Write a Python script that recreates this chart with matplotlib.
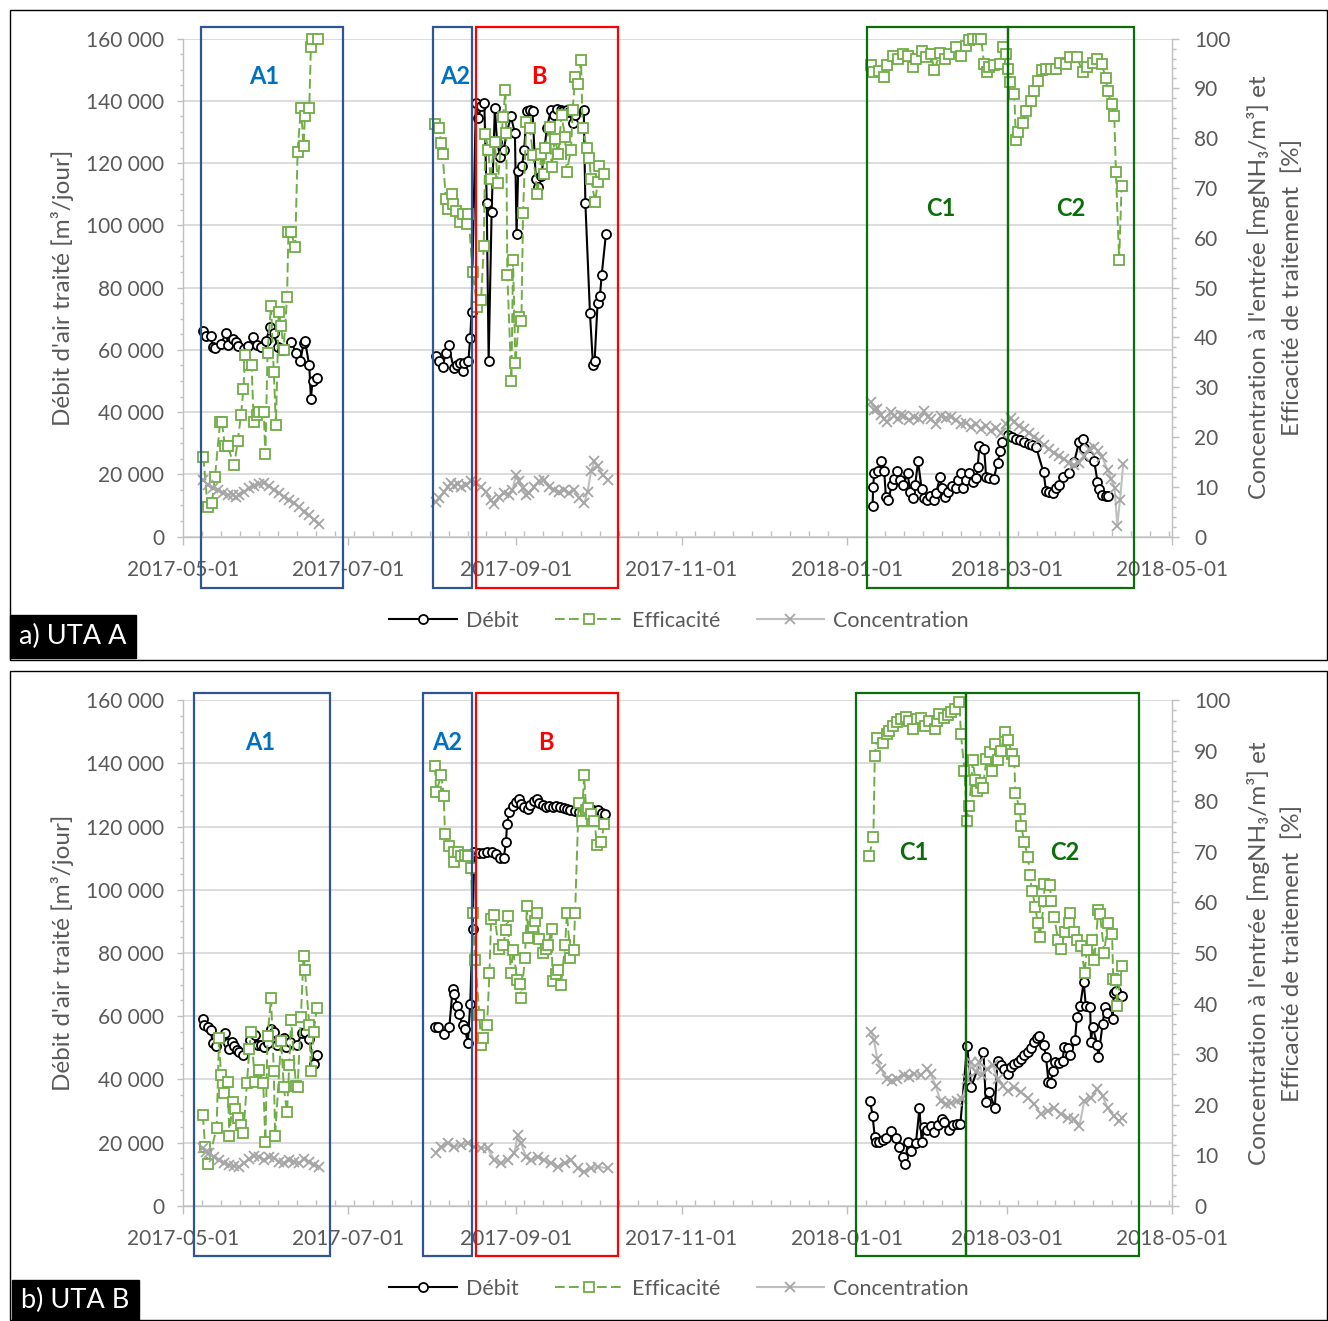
import numpy as np
import matplotlib
matplotlib.use("Agg")
import matplotlib.pyplot as plt
import matplotlib.dates as mdates
import matplotlib.ticker as mticker
from matplotlib.patches import Rectangle
from matplotlib.transforms import blended_transform_factory
from datetime import datetime

plt.rcParams['font.family'] = ['Lato', 'DejaVu Sans']

# ---------------- data (days since 2017-05-01) ----------------
# Panel a) UTA A
a_debit_A1_d = [7.5, 8.5, 10.3, 10.9, 11.8, 14.0, 15.9, 16.7, 18.3, 19.6, 20.4, 22.6, 24.1, 25.9, 27.3, 28.8, 30.6, 32.2, 33.4, 34.9, 36.4, 39.8, 41.8, 43.3, 44.5, 45.0, 46.6, 47.2, 47.8, 49.4]
a_debit_A1_v = [66000, 64400, 64600, 60800, 60600, 61900, 65500, 61400, 63500, 62500, 61100, 60400, 61100, 64100, 61400, 60800, 63000, 67300, 65500, 60800, 60100, 62500, 59000, 56300, 62200, 63000, 55000, 44300, 50000, 50800]
a_debit_AB_d = [93.4, 94.6, 95.8, 97.0, 98.0, 99.9, 101.1, 102.3, 103.2, 103.8, 105.3, 106.0, 106.5, 108.1, 109.0, 110.0, 111.2, 112.1, 112.8, 113.9, 115.1, 115.9, 117.1, 118.3, 119.6, 121.0, 122.5, 123.1, 123.7, 125.1, 125.9, 126.9, 128.2, 129.0, 130.2, 131.1, 132.3, 134.3, 135.8, 137.0, 138.2, 139.5, 140.4, 141.6, 142.6, 143.8, 144.7, 147.9, 148.5, 150.2, 151.3, 151.9, 153.0, 153.9, 154.5, 156.1]
a_debit_AB_v = [57900, 56300, 54600, 59000, 61400, 54100, 55200, 55700, 53200, 55700, 56300, 63900, 72300, 139300, 134400, 138200, 139300, 107300, 56300, 104300, 137700, 126800, 122000, 124100, 130100, 135000, 129600, 97300, 117600, 119000, 124100, 136800, 137200, 136600, 114900, 112200, 116000, 131400, 137200, 135500, 137500, 137200, 136600, 137200, 136400, 132800, 135300, 137200, 107100, 71700, 55200, 56300, 74900, 77400, 83900, 97300]
a_debit_C_d = [254.5, 254.7, 255.1, 256.6, 257.6, 258.8, 259.4, 260.3, 261.6, 262.5, 263.4, 264.7, 265.9, 267.4, 268.4, 269.3, 270.2, 271.3, 272.6, 273.5, 274.4, 275.7, 277.0, 277.9, 279.4, 280.1, 281.3, 282.4, 283.7, 285.2, 285.9, 287.1, 287.7, 288.9, 290.2, 291.4, 292.7, 293.3, 293.9, 295.7, 296.4, 297.6, 299.2, 300.6, 301.6, 302.1, 304.3, 305.8, 307.4, 309.0, 310.5, 312.1, 313.5, 314.8, 317.6, 318.5, 319.7, 320.9, 322.2, 323.4, 324.6, 327.1, 328.9, 330.7, 332.0, 332.6, 334.2, 336.3, 337.5, 338.1, 339.0, 340.6, 341.2]
a_debit_C_v = [9800, 15900, 20400, 21000, 24200, 21000, 12800, 11700, 16600, 18500, 21000, 18200, 16600, 20400, 14400, 12300, 16600, 24200, 15200, 12300, 11700, 13000, 11700, 13900, 19100, 15500, 12800, 14400, 16300, 15500, 18200, 20400, 15500, 18200, 20400, 17700, 18800, 22400, 29100, 28200, 19100, 18800, 18500, 23700, 27500, 30400, 32600, 32100, 31500, 31000, 30400, 29900, 29300, 28900, 20600, 14800, 14400, 14100, 15500, 16600, 19100, 20400, 24000, 30400, 31500, 28500, 26000, 24200, 17700, 15200, 13400, 13000, 13000]

a_eff_A1_d = [7.5, 9.1, 10.7, 11.8, 13.7, 14.3, 15.5, 16.5, 18.9, 20.2, 21.4, 22.3, 23.0, 24.5, 25.3, 26.1, 27.3, 28.2, 29.8, 30.4, 31.2, 32.5, 33.5, 34.3, 35.3, 36.2, 37.1, 38.4, 38.9, 39.9, 41.4, 42.3, 43.5, 44.5, 45.0, 46.6, 47.2, 47.5, 49.7]
a_eff_A1_v = [16.0, 6.0, 6.8, 12.0, 23.1, 23.1, 18.1, 18.1, 14.3, 19.2, 24.4, 29.7, 36.5, 34.4, 34.4, 23.1, 24.4, 25.0, 25.0, 16.5, 36.9, 46.4, 33.1, 22.4, 45.2, 42.3, 37.5, 48.1, 61.1, 61.1, 58.1, 77.3, 86.1, 78.5, 84.4, 86.1, 98.4, 100.0, 100.0]
a_eff_AB_d = [93.0, 94.6, 95.2, 95.8, 97.0, 97.7, 99.1, 99.7, 100.9, 102.2, 103.4, 104.7, 105.3, 106.9, 108.6, 110.0, 111.0, 111.6, 112.7, 113.5, 115.0, 116.2, 118.1, 119.0, 119.3, 119.7, 121.2, 121.8, 122.7, 124.0, 124.9, 125.5, 126.7, 128.0, 129.2, 130.8, 132.3, 133.3, 133.5, 135.4, 136.0, 137.2, 138.5, 139.7, 141.0, 141.6, 143.2, 143.8, 144.7, 145.9, 146.9, 147.5, 149.0, 149.9, 150.6, 152.1, 153.1, 153.7, 155.2]
a_eff_AB_v = [82.8, 82.0, 79.0, 76.9, 67.8, 65.7, 68.8, 66.7, 65.4, 63.1, 64.7, 62.7, 64.7, 53.2, 46.2, 47.5, 58.4, 80.8, 77.6, 71.8, 79.3, 71.1, 84.2, 89.6, 81.0, 52.5, 31.2, 55.5, 34.8, 44.1, 43.3, 64.9, 83.2, 82.1, 76.6, 68.8, 76.9, 72.8, 78.1, 82.3, 74.2, 79.9, 76.9, 84.6, 80.3, 73.3, 77.6, 85.7, 92.2, 90.8, 95.7, 82.0, 78.1, 76.0, 71.8, 67.2, 71.3, 74.4, 72.8]
a_eff_C_d = [253.9, 254.5, 257.0, 258.8, 260.0, 261.9, 263.7, 265.6, 267.4, 269.3, 270.5, 272.7, 274.2, 276.0, 277.3, 279.4, 281.2, 282.8, 285.2, 287.1, 288.9, 290.2, 291.4, 293.3, 294.5, 295.7, 296.7, 297.5, 299.2, 301.6, 302.5, 303.7, 304.3, 305.3, 306.8, 307.4, 308.2, 309.9, 311.1, 312.9, 314.1, 315.4, 316.9, 318.5, 320.3, 322.2, 323.8, 325.9, 327.4, 329.9, 332.0, 333.8, 335.7, 337.5, 339.0, 340.6, 341.2, 342.7, 343.7, 344.3, 345.5, 346.4]
a_eff_C_v = [94.6, 93.2, 93.4, 92.2, 94.6, 96.6, 95.9, 96.9, 96.6, 94.2, 95.9, 97.5, 96.3, 96.9, 93.7, 97.1, 95.9, 96.9, 98.4, 96.6, 98.6, 99.7, 100.0, 100.0, 100.0, 94.9, 93.2, 94.2, 94.6, 94.9, 98.4, 96.9, 93.9, 91.2, 88.9, 79.6, 81.3, 83.0, 85.5, 87.4, 89.5, 91.4, 93.6, 93.9, 93.9, 93.9, 95.2, 95.0, 96.3, 96.4, 93.2, 94.2, 95.2, 95.9, 94.9, 92.1, 89.5, 86.9, 84.4, 73.2, 55.5, 70.5]

a_conc_A1_d = [7.5, 9.1, 11.0, 12.8, 14.6, 16.5, 18.3, 19.6, 20.8, 22.6, 24.5, 26.3, 28.2, 30.0, 31.9, 33.7, 35.5, 37.4, 39.2, 41.1, 42.9, 44.8, 46.6, 48.5, 50.3]
a_conc_A1_v = [11.4, 10.4, 9.7, 9.4, 8.8, 8.4, 8.4, 8.0, 8.4, 9.0, 9.7, 10.2, 10.6, 10.7, 10.2, 9.4, 8.7, 8.0, 7.3, 6.7, 6.0, 5.0, 4.3, 3.4, 2.6]
a_conc_AB_d = [93.4, 94.6, 96.4, 97.7, 98.9, 100.1, 101.4, 102.6, 104.4, 106.3, 108.1, 110.0, 111.8, 113.7, 114.9, 116.7, 118.6, 120.4, 121.6, 122.9, 124.1, 125.3, 126.6, 127.8, 129.6, 131.5, 133.3, 135.2, 137.0, 138.9, 140.7, 142.6, 144.4, 146.3, 148.1, 149.3, 150.6, 151.8, 153.0, 154.9, 156.7]
a_conc_AB_v = [7.0, 7.7, 9.0, 10.0, 10.7, 10.2, 10.6, 10.0, 10.4, 11.1, 10.7, 10.0, 9.0, 7.3, 6.5, 8.0, 8.7, 8.4, 9.4, 12.4, 11.1, 9.7, 8.4, 8.7, 10.0, 11.1, 11.4, 10.0, 9.4, 9.0, 9.4, 8.7, 9.4, 7.7, 6.7, 9.0, 13.1, 15.1, 14.1, 12.4, 11.4]
a_conc_C_d = [253.9, 255.1, 256.3, 257.6, 258.8, 260.0, 261.3, 262.5, 263.7, 264.9, 266.2, 268.0, 269.9, 271.7, 273.5, 274.8, 276.0, 277.9, 279.7, 281.5, 283.4, 285.2, 287.1, 288.9, 290.7, 292.6, 294.4, 296.3, 298.1, 300.0, 301.8, 303.6, 305.5, 306.7, 308.6, 310.4, 312.3, 314.1, 316.0, 317.8, 319.7, 321.5, 323.4, 325.2, 327.1, 328.9, 330.7, 332.6, 334.4, 336.3, 337.7, 339.3, 341.2, 342.6, 343.8, 344.8, 345.8, 347.0]
a_conc_C_v = [27.0, 25.5, 25.7, 24.5, 23.6, 23.0, 25.0, 24.3, 23.6, 24.5, 24.3, 23.5, 24.0, 23.6, 25.3, 24.0, 23.6, 22.6, 24.3, 23.8, 24.0, 23.4, 22.6, 22.9, 22.0, 22.6, 21.6, 22.3, 21.2, 21.9, 20.9, 22.6, 23.8, 23.0, 22.3, 21.6, 20.9, 20.0, 19.3, 18.4, 17.5, 16.8, 16.2, 15.5, 14.8, 14.3, 14.8, 16.2, 17.5, 17.9, 17.2, 15.9, 13.4, 11.5, 9.8, 2.2, 7.3, 14.5]

# Panel b) UTA B
b_debit_A1_d = [7.3, 7.9, 9.4, 10.3, 10.9, 12.2, 15.5, 16.5, 17.1, 18.1, 18.9, 19.9, 20.8, 22.0, 24.8, 26.6, 27.5, 28.8, 30.0, 31.2, 32.5, 33.5, 34.7, 37.2, 38.0, 39.6, 42.1, 43.8, 45.0, 46.6, 48.2, 49.4]
b_debit_A1_v = [59100, 57200, 56700, 55600, 51400, 50600, 54600, 51400, 49500, 51900, 50600, 49200, 48700, 47600, 52400, 54000, 51000, 50800, 50300, 51400, 56000, 54900, 50800, 53200, 50300, 51900, 50800, 54600, 54900, 52800, 44900, 47600]
b_debit_AB_d = [93.0, 94.2, 96.4, 98.3, 99.5, 100.1, 101.3, 101.9, 103.2, 104.1, 105.1, 106.0, 106.9, 107.5, 109.4, 110.6, 112.2, 113.9, 115.5, 117.1, 118.4, 119.2, 119.6, 120.4, 121.7, 122.9, 124.1, 124.7, 125.9, 127.2, 128.2, 129.6, 130.6, 131.5, 132.7, 134.0, 135.2, 136.5, 137.7, 139.0, 140.6, 141.8, 143.0, 144.5, 146.0, 147.6, 149.2, 151.3, 153.2, 154.6, 155.8]
b_debit_AB_v = [56700, 56700, 54200, 56700, 68500, 66900, 63100, 60700, 57200, 56000, 51400, 63900, 87700, 112000, 111800, 111800, 112000, 112000, 111300, 110200, 110200, 115200, 120900, 124700, 126600, 127900, 128900, 127300, 126300, 125500, 126800, 128100, 128700, 127600, 127000, 126300, 126600, 126300, 126600, 126300, 125900, 125700, 125200, 124900, 124700, 125900, 125500, 125200, 125200, 124400, 124100]
b_debit_C_d = [253.6, 254.5, 255.3, 255.7, 256.9, 258.2, 259.4, 261.3, 263.1, 264.4, 265.6, 266.5, 267.5, 268.7, 270.5, 271.8, 272.6, 273.6, 274.6, 276.1, 277.3, 278.8, 280.0, 281.0, 282.8, 284.1, 285.7, 286.9, 289.4, 290.9, 295.4, 296.3, 297.5, 299.6, 300.6, 301.8, 303.1, 304.5, 305.5, 306.8, 308.0, 309.2, 310.5, 311.7, 312.9, 314.2, 315.2, 316.0, 317.6, 318.5, 319.4, 320.3, 321.0, 321.8, 323.4, 324.6, 325.2, 326.5, 327.4, 329.2, 329.9, 331.1, 332.4, 333.2, 334.8, 335.1, 335.7, 337.5, 337.8, 339.4, 340.2, 341.0, 343.1, 343.5, 344.3, 346.4]
b_debit_C_v = [33200, 28400, 21900, 20300, 20300, 20900, 21400, 23500, 21400, 18700, 15300, 13200, 20300, 17400, 19800, 31000, 20300, 24900, 24100, 25100, 23200, 25700, 27300, 26400, 24100, 25400, 26000, 26000, 50600, 37500, 48700, 32800, 36100, 31000, 45700, 44400, 43300, 41700, 43900, 44900, 45500, 46500, 47800, 48700, 50000, 51700, 53000, 53800, 51000, 47100, 39300, 38800, 42800, 45500, 45300, 45700, 50300, 49800, 47600, 52400, 59600, 63100, 70900, 63100, 62800, 51900, 56700, 50800, 47100, 57500, 62800, 61000, 59200, 67400, 67900, 66300]

b_eff_A1_d = [7.3, 8.2, 9.2, 12.4, 13.3, 14.0, 15.2, 16.5, 17.1, 18.3, 19.3, 20.2, 21.4, 22.3, 23.6, 24.5, 25.1, 26.6, 28.2, 29.6, 30.4, 31.2, 32.5, 33.5, 34.0, 36.2, 37.2, 38.4, 39.2, 39.9, 41.7, 42.3, 43.5, 44.5, 45.0, 46.6, 47.2, 48.2, 49.4]
b_eff_A1_v = [17.9, 11.6, 8.2, 15.4, 33.2, 25.8, 22.3, 24.5, 13.8, 20.5, 19.1, 17.4, 15.9, 14.4, 24.3, 31.0, 34.3, 24.5, 26.8, 24.3, 12.7, 33.6, 41.1, 26.6, 13.8, 32.6, 23.4, 18.5, 27.8, 36.8, 23.7, 23.4, 37.3, 49.5, 46.6, 35.7, 26.6, 34.4, 39.1]
b_eff_AB_d = [93.0, 93.4, 95.4, 96.2, 96.7, 98.3, 99.9, 100.1, 101.6, 102.6, 104.1, 105.3, 106.3, 106.9, 107.8, 109.4, 110.0, 110.6, 112.2, 113.1, 113.7, 114.9, 116.6, 118.2, 119.1, 119.8, 121.0, 121.8, 123.4, 124.3, 124.8, 126.2, 126.9, 127.4, 129.0, 129.9, 130.6, 131.5, 132.7, 134.0, 134.8, 136.0, 136.4, 137.7, 138.3, 139.5, 141.0, 141.7, 143.0, 144.2, 144.7, 146.0, 147.2, 148.0, 148.8, 149.4, 150.6, 151.8, 152.8, 154.3, 155.5]
b_eff_AB_v = [87.0, 81.9, 85.2, 81.1, 73.6, 71.2, 68.0, 70.0, 69.9, 69.2, 69.4, 69.1, 66.9, 57.9, 48.6, 37.7, 31.8, 33.2, 35.7, 46.0, 56.7, 57.5, 50.8, 51.5, 54.6, 57.3, 46.0, 50.6, 44.6, 43.9, 41.1, 49.0, 59.3, 53.0, 55.2, 56.4, 57.9, 52.8, 50.0, 50.8, 51.5, 54.8, 44.5, 45.8, 46.6, 43.7, 51.5, 57.9, 49.0, 50.6, 57.9, 79.6, 76.1, 85.2, 78.3, 78.6, 77.6, 76.1, 71.4, 72.0, 75.6]
b_eff_C_d = [253.2, 254.8, 255.3, 256.1, 258.2, 259.8, 260.6, 261.9, 263.5, 265.0, 266.8, 268.1, 269.3, 270.9, 272.4, 273.8, 275.4, 277.5, 278.2, 279.1, 280.9, 282.2, 283.4, 284.9, 286.5, 287.1, 288.4, 289.4, 290.2, 291.5, 292.4, 293.1, 294.4, 295.2, 296.5, 297.7, 298.6, 299.8, 300.8, 301.8, 303.5, 304.5, 306.0, 306.8, 307.2, 308.8, 309.4, 310.4, 311.9, 312.5, 313.4, 314.6, 315.4, 316.2, 317.8, 317.9, 319.9, 320.5, 321.5, 323.0, 324.0, 325.5, 326.9, 327.3, 328.9, 330.1, 331.4, 332.8, 333.5, 335.3, 336.3, 337.8, 338.4, 340.0, 341.2, 342.9, 343.3, 344.5, 344.6, 346.6]
b_eff_C_v = [69.2, 72.9, 89.0, 92.6, 91.6, 93.4, 94.0, 95.0, 95.7, 96.3, 96.7, 96.0, 94.3, 96.3, 96.5, 95.0, 95.9, 94.3, 96.0, 97.3, 96.5, 97.0, 97.7, 98.3, 99.7, 93.4, 86.0, 76.1, 79.1, 88.1, 84.3, 82.0, 83.6, 82.7, 88.3, 89.8, 86.1, 91.4, 88.1, 90.0, 93.8, 92.1, 89.4, 88.0, 81.6, 78.5, 75.1, 72.0, 68.9, 65.4, 62.2, 59.1, 56.0, 53.2, 60.2, 63.7, 63.5, 60.2, 57.1, 52.6, 50.8, 54.2, 55.9, 57.9, 54.2, 52.6, 51.3, 46.0, 50.6, 52.6, 48.6, 58.5, 57.7, 50.0, 56.0, 53.8, 44.8, 44.6, 39.5, 47.5]

b_conc_A1_d = [7.3, 8.5, 9.7, 11.6, 13.4, 15.2, 17.1, 18.9, 20.8, 22.6, 24.5, 26.3, 28.2, 30.0, 31.9, 33.7, 35.5, 37.4, 39.2, 41.1, 42.9, 44.8, 46.6, 48.5, 50.3]
b_conc_A1_v = [11.4, 10.7, 10.4, 9.6, 9.0, 8.5, 8.0, 7.8, 7.7, 8.4, 9.2, 9.8, 9.7, 9.0, 9.7, 9.4, 8.7, 8.4, 9.0, 8.7, 8.4, 9.2, 8.7, 8.0, 7.7]
b_conc_AB_d = [93.4, 95.2, 97.7, 100.1, 102.6, 105.0, 107.5, 110.0, 112.4, 114.9, 117.3, 119.8, 122.3, 123.5, 124.7, 126.6, 128.4, 130.9, 133.4, 135.8, 138.3, 140.8, 143.2, 145.7, 148.1, 150.6, 153.1, 156.8]
b_conc_AB_v = [10.5, 11.7, 12.4, 11.7, 12.0, 12.4, 11.7, 11.4, 11.4, 9.0, 8.4, 9.0, 10.4, 14.0, 12.4, 9.7, 9.0, 9.7, 9.0, 8.4, 7.7, 8.4, 9.0, 7.4, 6.7, 7.4, 7.7, 7.4]
b_conc_C_d = [254.0, 255.0, 256.2, 257.5, 259.9, 261.8, 263.6, 266.1, 267.9, 269.7, 272.2, 274.7, 275.9, 277.8, 279.6, 281.5, 283.3, 285.8, 287.6, 289.5, 290.7, 292.6, 293.8, 295.0, 296.9, 298.8, 300.6, 302.5, 304.3, 306.8, 309.2, 311.7, 314.2, 316.6, 319.1, 321.5, 324.0, 326.5, 328.9, 330.8, 332.6, 335.1, 337.5, 339.4, 341.2, 343.6, 345.5, 346.7]
b_conc_C_v = [34.4, 32.8, 29.1, 27.1, 25.1, 24.7, 25.1, 25.8, 25.4, 26.1, 25.8, 27.1, 26.1, 23.7, 20.7, 20.1, 20.4, 20.7, 21.1, 25.1, 28.4, 26.4, 28.4, 25.8, 27.1, 27.8, 25.1, 23.7, 22.7, 23.4, 22.4, 21.4, 20.1, 18.1, 18.7, 19.4, 18.1, 17.4, 17.1, 15.7, 20.7, 21.4, 23.1, 21.7, 19.4, 17.7, 16.7, 17.4]

# Campaign windows (day offsets) and labels
a_boxes = [("A1", 6.6, 59.0), ("A2", 92.1, 106.6), ("B", 108.1, 160.5), ("C1", 252.5, 304.5), ("C2", 304.5, 350.9)]
b_boxes = [("A1", 4.1, 54.3), ("A2", 88.4, 106.8), ("B", 108.2, 160.7), ("C1", 248.5, 289.1), ("C2", 289.1, 352.8)]
a_label_days = {"A1": 30.0, "A2": 100.5, "B": 131.5, "C1": 279.5, "C2": 327.5}
b_label_days = {"A1": 28.5, "A2": 97.5, "B": 133.8, "C1": 269.7, "C2": 325.3}

major_dates = ["2017-05-01", "2017-07-01", "2017-09-01", "2017-11-01", "2018-01-01", "2018-03-01", "2018-05-01"]
series_names = ["Débit", "Efficacité", "Concentration"]

# ---------------- styling ----------------
W, H = 1328, 1321
BASE = mdates.date2num(datetime(2017, 5, 1))
TXT = '#595959'
AXC = '#BFBFBF'
GREEN = '#70AD47'
box_colors = {"A1": '#2F5597', "A2": '#2F5597', "B": '#FF0000', "C1": '#0B6E0B', "C2": '#0B6E0B'}
lab_colors = {"A1": '#0070C0', "A2": '#0070C0', "B": '#FF0000', "C1": '#0B6E0B', "C2": '#0B6E0B'}

fig = plt.figure(figsize=(W / 100, H / 100), dpi=100)


def X(days):
    return BASE + np.asarray(days, dtype=float)


def fmt_thousands(v, pos):
    return f"{int(round(v)):,}".replace(",", " ")


def make_panel(top_px, bot_px, debit, eff, conc, boxes, label_days, box_top, box_bot,
               lab_y_ab, lab_y_c, legend_y, tag, tag_box):
    ax = fig.add_axes([183 / W, 1 - bot_px / H, 989 / W, (bot_px - top_px) / H])
    ax2 = ax.twinx()
    ax.set_xlim(BASE, BASE + 365)
    ax.set_ylim(0, 160000)
    ax2.set_ylim(0, 100)

    ax.yaxis.set_major_locator(mticker.MultipleLocator(20000))
    ax.yaxis.set_minor_locator(mticker.MultipleLocator(5000))
    ax.yaxis.set_major_formatter(mticker.FuncFormatter(fmt_thousands))
    ax2.yaxis.set_major_locator(mticker.MultipleLocator(10))
    ax2.yaxis.set_minor_locator(mticker.MultipleLocator(2))
    ax.xaxis.set_major_locator(mticker.FixedLocator([mdates.date2num(datetime.strptime(d, "%Y-%m-%d")) for d in major_dates]))
    ax.xaxis.set_minor_locator(mticker.FixedLocator(BASE + np.arange(0, 366, 7)))
    ax.xaxis.set_major_formatter(mdates.DateFormatter('%Y-%m-%d'))

    ax.grid(axis='y', which='major', color='#D9D9D9', lw=1.3)
    ax.set_axisbelow(True)
    for s in ['top', 'right']:
        ax.spines[s].set_visible(False)
    for s in ['top', 'left', 'bottom']:
        ax2.spines[s].set_visible(False)
    ax.spines['left'].set_color(AXC)
    ax.spines['bottom'].set_color(AXC)
    ax2.spines['right'].set_color(AXC)
    for sp in [ax.spines['left'], ax.spines['bottom'], ax2.spines['right']]:
        sp.set_linewidth(1.0)

    ax.tick_params(axis='y', which='major', direction='out', length=4.5, width=1, color=AXC,
                   labelcolor=TXT, labelsize=15, pad=9)
    ax.tick_params(axis='y', which='minor', direction='out', length=2.5, width=1, color=AXC)
    ax2.tick_params(axis='y', which='major', direction='out', length=5, width=1, color=AXC,
                    labelcolor=TXT, labelsize=15, pad=11)
    ax2.tick_params(axis='y', which='minor', direction='out', length=3, width=1, color=AXC)
    ax.tick_params(axis='x', which='major', direction='out', length=6, width=1, color=AXC,
                   labelcolor=TXT, labelsize=15, pad=10.5)
    ax.tick_params(axis='x', which='minor', direction='in', length=4, width=1, color=AXC)

    dkw = dict(color='black', lw=1.5, marker='o', ms=6.5, mfc='white', mec='black', mew=1.3, clip_on=False)
    ekw = dict(color=GREEN, lw=1.4, ls=(0, (5, 2.2)), marker='s', ms=6.5, mfc='white', mec=GREEN, mew=1.3, clip_on=False)
    ckw = dict(color=AXC, lw=1.5, marker='x', ms=6.5, mec='#A5A5A5', mew=1.3, clip_on=False)
    hd = he = hc = None
    for d, v in debit:
        hd, = ax.plot(X(d), v, **dkw)
    for d, v in eff:
        he, = ax2.plot(X(d), v, **ekw)
    for d, v in conc:
        hc, = ax2.plot(X(d), v, **ckw)

    ax.set_ylabel("Débit d'air traité [m³/jour]", fontsize=17.5, color=TXT)
    ax.yaxis.set_label_coords((74 - 183) / 989, 0.5)
    ymid = 1 - (top_px + bot_px) / 2 / H
    fig.text(1258 / W, ymid, "Concentration à l'entrée [mgNH₃/m³] et", rotation=90,
             ha='center', va='center', fontsize=17.5, color=TXT)
    fig.text(1292 / W, ymid, "Efficacité de traitement  [%]", rotation=90,
             ha='center', va='center', fontsize=17.5, color=TXT)

    # campaign boxes
    tr = blended_transform_factory(ax.transData, fig.transFigure)
    for name, d0, d1 in boxes:
        r = Rectangle((BASE + d0, 1 - box_bot / H), d1 - d0, (box_bot - box_top) / H,
                      transform=tr, fill=False, ec=box_colors[name], lw=1.6, zorder=10)
        fig.add_artist(r)
        ly = lab_y_c if name.startswith("C") else lab_y_ab
        fig.text(0, 0, name, transform=tr, fontsize=17, fontweight='bold', color=lab_colors[name],
                 ha='center', va='center').set_position((BASE + label_days[name], 1 - ly / H))

    # legend
    fig.legend([hd, he, hc], series_names, loc='center', bbox_to_anchor=(679 / W, 1 - legend_y / H),
               ncol=3, frameon=False, fontsize=15.5, handlelength=3.15, handletextpad=0.4,
               columnspacing=1.7, labelcolor=TXT)

    # panel tag
    x0, y0, x1, y1 = tag_box
    fig.add_artist(Rectangle((x0 / W, 1 - y1 / H), (x1 - x0) / W, (y1 - y0) / H,
                             transform=fig.transFigure, fc='black', ec='black', zorder=20))
    fig.text((x0 + x1) / 2 / W, 1 - (y0 + y1) / 2 / H, tag, color='white', fontsize=19.5,
             ha='center', va='center', zorder=21)
    return ax, ax2


make_panel(38.6, 536.6,
           [(a_debit_A1_d, a_debit_A1_v), (a_debit_AB_d, a_debit_AB_v), (a_debit_C_d, a_debit_C_v)],
           [(a_eff_A1_d, a_eff_A1_v), (a_eff_AB_d, a_eff_AB_v), (a_eff_C_d, a_eff_C_v)],
           [(a_conc_A1_d, a_conc_A1_v), (a_conc_AB_d, a_conc_AB_v), (a_conc_C_d, a_conc_C_v)],
           a_boxes, a_label_days, 26.8, 588, 77, 208, 621, "a) UTA A", (10, 615, 136, 658))

make_panel(700.3, 1205.7,
           [(b_debit_A1_d, b_debit_A1_v), (b_debit_AB_d, b_debit_AB_v), (b_debit_C_d, b_debit_C_v)],
           [(b_eff_A1_d, b_eff_A1_v), (b_eff_AB_d, b_eff_AB_v), (b_eff_C_d, b_eff_C_v)],
           [(b_conc_A1_d, b_conc_A1_v), (b_conc_AB_d, b_conc_AB_v), (b_conc_C_d, b_conc_C_v)],
           b_boxes, b_label_days, 692.8, 1256, 743, 853, 1289, "b) UTA B", (12, 1280, 139, 1321))

# panel frames
for (x0, y0, x1, y1) in [(10, 10, 1327, 660), (10, 671, 1327, 1320)]:
    fig.add_artist(Rectangle((x0 / W, 1 - y1 / H), (x1 - x0) / W, (y1 - y0) / H,
                             transform=fig.transFigure, fill=False, ec='black', lw=1.0, zorder=15))

fig.savefig("out.png", dpi=100)
